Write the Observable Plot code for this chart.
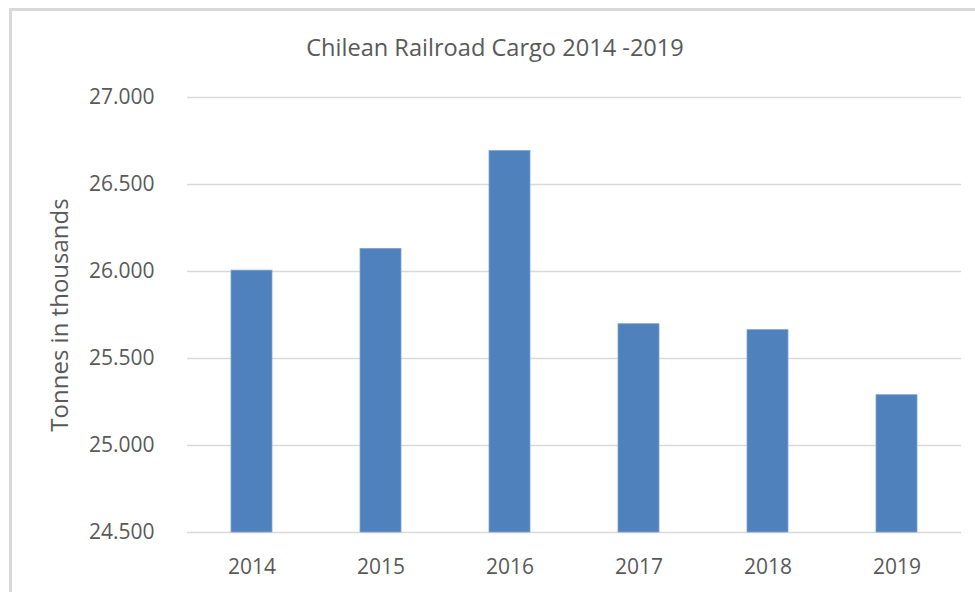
<!DOCTYPE html>
<html>
<head>
<meta charset="utf-8">
<script src="https://cdn.jsdelivr.net/npm/d3@7"></script>
<script src="https://cdn.jsdelivr.net/npm/@observablehq/plot@0.6"></script>
<style>
  html, body { margin: 0; padding: 0; background: #fff; overflow: hidden; }
  #wrap { position: relative; width: 975px; height: 592px; overflow: hidden; font-family: "Open Sans", sans-serif; }
  #frame { position: absolute; left: 9px; top: 8px; width: 1000px; height: 700px; border: 3px solid #d9d9d9; box-sizing: border-box; }
  #title { position: absolute; left: 0; top: 31px; width: 990px; text-align: center; font-size: 23.6px; color: #595959; line-height: 32px; }
  #chart { position: absolute; left: 0; top: 75px; }
</style>
</head>
<body>
<div id="wrap">
  <div id="frame"></div>
  <div id="title">Chilean Railroad Cargo 2014 -2019</div>
  <div id="chart"></div>
</div>
<script>
const years = ["2014", "2015", "2016", "2017", "2018", "2019"];
const cargo = [26005, 26130, 26692, 25697, 25663, 25289];
const yTicks = [24500, 25000, 25500, 26000, 26500, 27000];
const yLabel = "Tonnes in thousands";

const data = years.map((year, i) => ({year, value: cargo[i]}));
const fmt = d3.formatLocale({decimal: ",", thousands: ".", grouping: [3], currency: ["", ""]}).format(",");

const chart = Plot.plot({
  width: 975,
  height: 517,
  marginLeft: 187,
  marginRight: 14,
  marginTop: 22,
  marginBottom: 60,
  style: {fontFamily: "Open Sans, sans-serif", fontSize: "21px", color: "#595959", background: "transparent"},
  x: {domain: years, paddingInner: 0.68, paddingOuter: 0.34},
  y: {domain: [yTicks[0], yTicks[yTicks.length - 1]]},
  marks: [
    Plot.gridY(yTicks, {stroke: "#d9d9d9", strokeOpacity: 1, strokeWidth: 1.5}),
    Plot.barY(data, {x: "year", y1: yTicks[0], y2: "value", fill: "#4f81bd", stroke: "#7ea3d1", strokeWidth: 0.8}),
    Plot.axisY(yTicks, {tickSize: 0, tickPadding: 33, tickFormat: fmt, fill: "#595959", fontSize: 21, label: null}),
    Plot.axisY([], {tickSize: 0, fill: "#595959", fontSize: 24, dy: 4,
      label: yLabel, labelAnchor: "center", labelArrow: "none", labelOffset: 137}),
    Plot.axisX({tickSize: 0, tickPadding: 27, fill: "#595959", fontSize: 21, label: null})
  ]
});
document.getElementById("chart").appendChild(chart);
</script>
</body>
</html>
